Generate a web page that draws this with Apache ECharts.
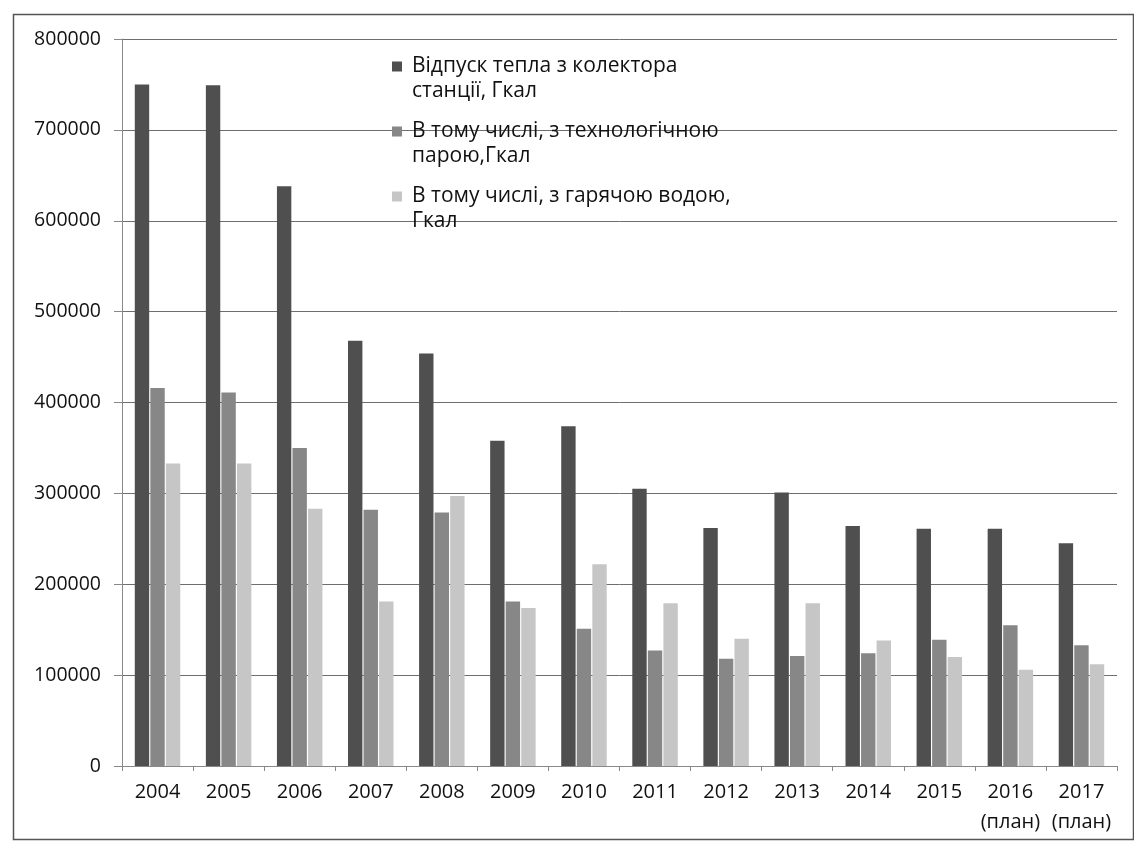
<!DOCTYPE html>
<html>
<head>
<meta charset="utf-8">
<script src="https://cdn.jsdelivr.net/npm/echarts@6/dist/echarts.min.js"></script>
<style>
html,body{margin:0;padding:0;background:#fff;}
#chart{width:1134px;height:845px;}
</style>
</head>
<body>
<div id="chart"></div>
<script>
const categories = ['2004','2005','2006','2007','2008','2009','2010','2011','2012','2013','2014','2015','2016\n(план)','2017\n(план)'];
const seriesNames = ['Відпуск тепла з колектора\nстанції, Гкал', 'В тому числі, з технологічною\nпарою,Гкал', 'В тому числі, з гарячою водою,\nГкал'];
const totalHeat = [750000, 749000, 638000, 468000, 454000, 358000, 374000, 305000, 262000, 301000, 264000, 261000, 261000, 245000];
const steamHeat = [416000, 411000, 350000, 282000, 279000, 181000, 151000, 127000, 118000, 121000, 124000, 139000, 155000, 133000];
const waterHeat = [333000, 333000, 283000, 181000, 297000, 174000, 222000, 179000, 140000, 179000, 138000, 120000, 106000, 112000];
const yTicks = [0, 100000, 200000, 300000, 400000, 500000, 600000, 700000, 800000];

const colors = ['#4f4f4f', '#878787', '#c6c6c6'];
const FONT = '"Open Sans", "Noto Sans", sans-serif';

const chart = echarts.init(document.getElementById('chart'), null, {renderer: 'canvas'});
const values = [totalHeat, steamHeat, waterHeat];
chart.setOption({
  animation: false,
  backgroundColor: '#ffffff',
  color: colors,
  graphic: [{
    type: 'rect', left: 11, top: 12, silent: true,
    shape: {width: 1120, height: 825},
    style: {fill: 'none', stroke: '#555', lineWidth: 1.5}
  }],
  grid: {left: 122, right: 17, top: 39, bottom: 79, containLabel: false},
  legend: {
    orient: 'vertical',
    left: 392,
    top: 29,
    padding: 0,
    itemWidth: 10,
    itemHeight: 10,
    itemGap: -10,
    icon: 'rect',
    formatter: name => '\n' + name,
    textStyle: {fontFamily: FONT, fontSize: 21, color: '#111', lineHeight: 25, padding: [0, 0, 0, 5]},
    data: seriesNames
  },
  xAxis: {
    type: 'category',
    data: categories,
    axisLine: {lineStyle: {color: '#888', width: 1}},
    axisTick: {show: true, length: 5, lineStyle: {color: '#888'}},
    axisLabel: {fontFamily: FONT, fontSize: 20, color: '#111', margin: 11, lineHeight: 30, interval: 0}
  },
  yAxis: {
    type: 'value',
    min: yTicks[0],
    max: yTicks[yTicks.length - 1],
    interval: yTicks[1] - yTicks[0],
    axisLine: {show: true, lineStyle: {color: '#888', width: 1}},
    axisTick: {show: true, length: 8, lineStyle: {color: '#888'}},
    axisLabel: {fontFamily: FONT, fontSize: 19.5, color: '#111', margin: 21, formatter: v => String(v)},
    splitLine: {lineStyle: {color: '#6e6e6e', width: 1}}
  },
  series: values.map((v, i) => ({
    name: seriesNames[i],
    type: 'bar',
    data: v,
    barGap: '8%',
    barCategoryGap: '36%',
    itemStyle: {color: colors[i]}
  }))
});
</script>
</body>
</html>
